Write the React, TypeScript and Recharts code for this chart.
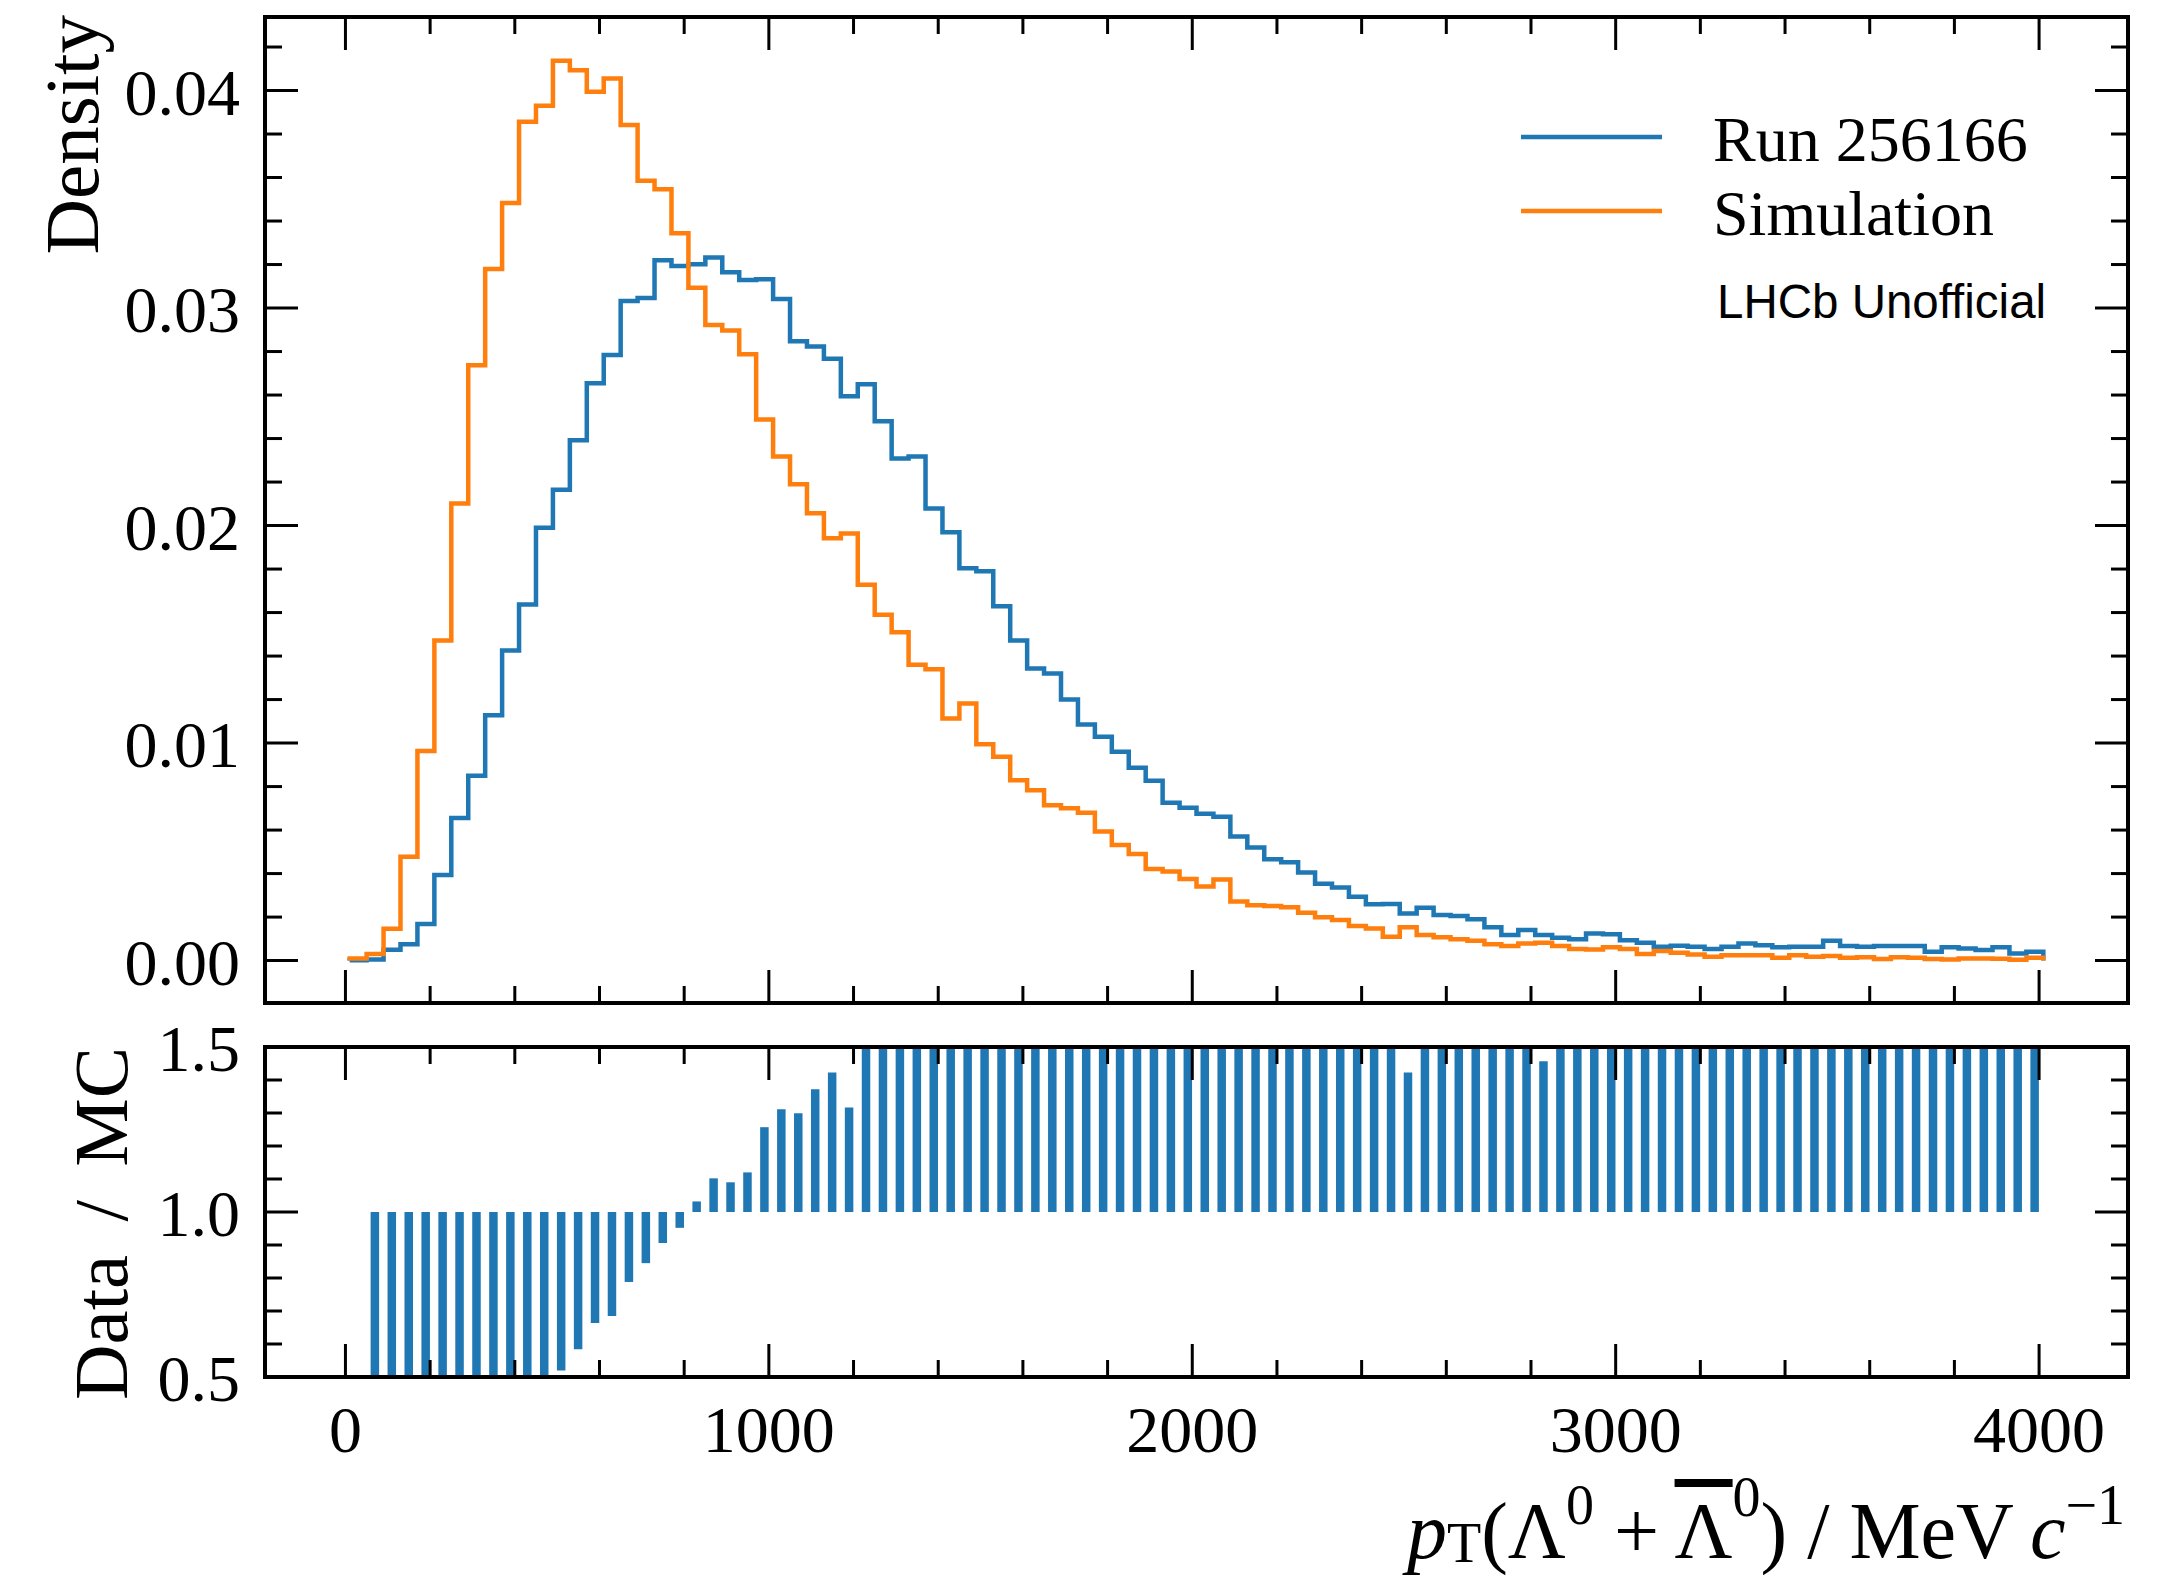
import React from 'react'
import { ComposedChart, Line, Bar, XAxis, YAxis } from 'recharts'

// binning of pT (MeV/c): 100 bins, 40 wide
const N_BINS = 100
const BIN_LO = 10
const BIN_W = 40
const binEdges = Array.from({ length: N_BINS + 1 }, (_, i) => BIN_LO + i * BIN_W)

// normalised densities, one per bin
const runDensity = [
  0.00002, 0.00005, 0.0005, 0.00075, 0.00168, 0.00394, 0.00656, 0.0085, 0.01128, 0.01425,
  0.01637, 0.0199, 0.02165, 0.02392, 0.02654, 0.02784, 0.03032, 0.03046, 0.0322, 0.03193,
  0.03201, 0.03232, 0.03165, 0.03129, 0.03132, 0.03041, 0.02847, 0.02823, 0.02767, 0.02595,
  0.0265, 0.0248, 0.02308, 0.02317, 0.02078, 0.01969, 0.01804, 0.0179, 0.01629, 0.01472,
  0.01343, 0.0132, 0.012, 0.01085, 0.01029, 0.0096, 0.00887, 0.00827, 0.00726, 0.00703,
  0.00675, 0.00661, 0.0057, 0.0052, 0.00466, 0.00452, 0.00405, 0.00353, 0.00336, 0.00294,
  0.00259, 0.0026, 0.00217, 0.00243, 0.0021, 0.00205, 0.0019, 0.00153, 0.00118, 0.00141,
  0.00118, 0.00105, 0.00098, 0.00125, 0.00121, 0.00094, 0.00082, 0.00064, 0.00068, 0.00064,
  0.00053, 0.00064, 0.00079, 0.00071, 0.00061, 0.00064, 0.00064, 0.00091, 0.00067, 0.00064,
  0.00067, 0.00067, 0.00067, 0.00041, 0.00061, 0.00056, 0.00049, 0.00061, 0.00033, 0.00041,
]

const simDensity = [
  0.0001, 0.0003, 0.00146, 0.00477, 0.00963, 0.01472, 0.02101, 0.02737, 0.03179, 0.03483,
  0.03856, 0.0393, 0.04137, 0.04093, 0.03994, 0.04055, 0.03842, 0.03585, 0.03546, 0.03344,
  0.03093, 0.02922, 0.02897, 0.02787, 0.02488, 0.02317, 0.0219, 0.02056, 0.01942, 0.01964,
  0.01728, 0.0159, 0.0151, 0.0136, 0.01339, 0.01113, 0.01182, 0.00995, 0.00937, 0.00829,
  0.00783, 0.00714, 0.007, 0.0068, 0.00594, 0.00531, 0.0049, 0.00421, 0.0041, 0.00375,
  0.00341, 0.00373, 0.00272, 0.00254, 0.00251, 0.00245, 0.0022, 0.00199, 0.00187, 0.00159,
  0.00148, 0.0011, 0.00153, 0.00118, 0.00107, 0.00098, 0.00091, 0.00075, 0.00067, 0.00079,
  0.00082, 0.00067, 0.00053, 0.00051, 0.00061, 0.00053, 0.0003, 0.00044, 0.00036, 0.00028,
  0.00018, 0.00025, 0.00024, 0.00024, 0.00013, 0.00025, 0.00018, 0.00021, 0.00013, 0.00015,
  0.00007, 0.00015, 0.00013, 0.00007, 0.00005, 0.0001, 0.0001, 0.00008, 0.00004, 0.00013,
]

// data / MC per bin (first bin empty)
const ratioValues: (number | null)[] = [
  null, 0.17, 0.34, 0.16, 0.17, 0.27, 0.31, 0.31, 0.35, 0.41,
  0.42, 0.49, 0.52, 0.584, 0.664, 0.685, 0.788, 0.845, 0.906, 0.952,
  1.032, 1.102, 1.09, 1.12, 1.257, 1.311, 1.299, 1.372, 1.423, 1.317,
  1.53, 1.56, 1.53, 1.7, 1.55, 1.77, 1.53, 1.8, 1.74, 1.78,
  1.72, 1.85, 1.71, 1.6, 1.73, 1.81, 1.81, 1.96, 1.77, 1.87,
  1.98, 1.77, 2.1, 2.05, 1.86, 1.84, 1.84, 1.77, 1.8, 1.85,
  1.75, 2.36, 1.423, 2.06, 1.96, 2.09, 2.09, 2.04, 1.76, 1.78,
  1.457, 1.57, 1.85, 2.45, 1.98, 1.77, 2.73, 1.6, 1.89, 2.56,
  2.9, 2.6, 3.3, 3.0, 4.7, 2.6, 3.6, 4.3, 5.2, 4.3,
  5.0, 4.5, 5.2, 5.9, 6.0, 5.6, 4.9, 7.6, 8.0, 3.2,
]

const xTicks = [0, 200, 400, 600, 800, 1000, 1200, 1400, 1600, 1800, 2000, 2200, 2400, 2600, 2800, 3000, 3200, 3400, 3600, 3800, 4000]
const densityTicks = [0, 0.002, 0.004, 0.006, 0.008, 0.01, 0.012, 0.014, 0.016, 0.018, 0.02, 0.022, 0.024, 0.026, 0.028, 0.03, 0.032, 0.034, 0.036, 0.038, 0.04, 0.042]
const ratioTicks = [0.5, 0.6, 0.7, 0.8, 0.9, 1.0, 1.1, 1.2, 1.3, 1.4, 1.5]

const seriesNames = ['Run 256166', 'Simulation']
const BLUE = '#1f77b4'
const ORANGE = '#ff7f0e'

// step outline: baseline -> bins -> baseline (like matplotlib histtype='step')
const histRows = [
  { x: binEdges[0], run: 0, sim: 0 },
  ...runDensity.map((v, i) => ({ x: binEdges[i], run: v, sim: simDensity[i] })),
  { x: binEdges[N_BINS], run: runDensity[N_BINS - 1], sim: simDensity[N_BINS - 1] },
  { x: binEdges[N_BINS], run: 0, sim: 0 },
]

const ratioRows = ratioValues.flatMap((r, i) =>
  r == null ? [] : [{ x: binEdges[i] + BIN_W / 2, r: [Math.min(r, 1), Math.max(r, 1)] }]
)

const SERIF = '"Liberation Serif", "Times New Roman", serif'
const SANS = '"Liberation Sans", Arial, sans-serif'
const X_DOMAIN: [number, number] = [-190, 4210]
const MAJOR_LEN = 33
const MINOR_LEN = 17
const TICK_W = 3
const SPINE = { stroke: '#000', strokeWidth: 4, strokeLinecap: 'square' as const }

function xTick(side: 'bottom' | 'top', withLabel: boolean) {
  return (props: any) => {
    const { x, y, payload } = props
    const v = payload.value as number
    const major = v % 1000 === 0
    const len = major ? MAJOR_LEN : MINOR_LEN
    const y2 = side === 'bottom' ? y - len : y + len
    return (
      <g>
        <line x1={x} y1={y} x2={x} y2={y2} stroke="#000" strokeWidth={TICK_W} />
        {withLabel && major ? (
          <text x={x} y={y + 75} textAnchor="middle" fontFamily={SERIF} fontSize={66} fill="#000">
            {v}
          </text>
        ) : null}
      </g>
    )
  }
}

function yTick(side: 'left' | 'right', majorStep: number, digits: number) {
  return (props: any) => {
    const { x, y, payload } = props
    const v = payload.value as number
    const q = v / majorStep
    const major = Math.abs(q - Math.round(q)) < 1e-6
    const len = major ? MAJOR_LEN : MINOR_LEN
    const x2 = side === 'left' ? x + len : x - len
    return (
      <g>
        <line x1={x} y1={y} x2={x2} y2={y} stroke="#000" strokeWidth={TICK_W} />
        {side === 'left' && major ? (
          <text x={x - 25} y={y + 24} textAnchor="end" fontFamily={SERIF} fontSize={66} fill="#000">
            {v.toFixed(digits)}
          </text>
        ) : null}
      </g>
    )
  }
}

const axisCommon = {
  type: 'number' as const,
  tickSize: 0,
  tickMargin: 0,
  tickLine: false,
  interval: 0 as const,
  axisLine: SPINE,
  allowDataOverflow: true,
}

export default function App() {
  return (
    <div style={{ position: 'absolute', left: 0, top: 0, width: 2177, height: 1579, background: '#fff' }}>
      {/* upper panel: normalised densities */}
      <div style={{ position: 'absolute', left: 0, top: 0 }}>
        <ComposedChart width={2177} height={1040} data={histRows} margin={{ top: 16, right: 48, bottom: 36, left: 0 }}>
          <XAxis {...axisCommon} xAxisId="x" dataKey="x" domain={X_DOMAIN} ticks={xTicks} height={1} tick={xTick('bottom', false)} />
          <XAxis {...axisCommon} xAxisId="xt" orientation="top" dataKey="x" domain={X_DOMAIN} ticks={xTicks} height={1} tick={xTick('top', false)} />
          <YAxis {...axisCommon} yAxisId="y" domain={[-0.00195, 0.04338]} ticks={densityTicks} width={265} tick={yTick('left', 0.01, 2)} />
          <YAxis {...axisCommon} yAxisId="yr" orientation="right" domain={[-0.00195, 0.04338]} ticks={densityTicks} width={1} tick={yTick('right', 0.01, 2)} />
          <Line xAxisId="x" yAxisId="y" dataKey="run" name={seriesNames[0]} type="stepAfter" stroke={BLUE} strokeWidth={4.5} dot={false} activeDot={false} isAnimationActive={false} />
          <Line xAxisId="x" yAxisId="y" dataKey="sim" name={seriesNames[1]} type="stepAfter" stroke={ORANGE} strokeWidth={4.5} dot={false} activeDot={false} isAnimationActive={false} />

          {/* legend */}
          <g>
            <line x1={1521} x2={1662} y1={137} y2={137} stroke={BLUE} strokeWidth={4.5} />
            <text x={1713} y={161} fontFamily={SERIF} fontSize={64} fill="#000">{seriesNames[0]}</text>
            <line x1={1521} x2={1662} y1={211} y2={211} stroke={ORANGE} strokeWidth={4.5} />
            <text x={1713} y={235} fontFamily={SERIF} fontSize={64} fill="#000">{seriesNames[1]}</text>
            <text x={1717} y={318} fontFamily={SANS} fontSize={47.5} fill="#000">LHCb Unofficial</text>
          </g>
          <text transform="translate(98,15) rotate(-90)" textAnchor="end" fontFamily={SERIF} fontSize={77} fill="#000">
            Density
          </text>
        </ComposedChart>
      </div>

      {/* lower panel: data / MC */}
      <div style={{ position: 'absolute', left: 0, top: 1000 }}>
        <ComposedChart width={2177} height={579} data={ratioRows} margin={{ top: 46, right: 48, bottom: 201, left: 0 }}>
          <XAxis {...axisCommon} xAxisId="x" dataKey="x" domain={X_DOMAIN} ticks={xTicks} height={1} tick={xTick('bottom', true)} />
          <XAxis {...axisCommon} xAxisId="xt" orientation="top" dataKey="x" domain={X_DOMAIN} ticks={xTicks} height={1} tick={xTick('top', false)} />
          <YAxis {...axisCommon} yAxisId="y" domain={[0.5, 1.5]} ticks={ratioTicks} width={265} tick={yTick('left', 0.5, 1)} />
          <YAxis {...axisCommon} yAxisId="yr" orientation="right" domain={[0.5, 1.5]} ticks={ratioTicks} width={1} tick={yTick('right', 0.5, 1)} />
          <Bar xAxisId="x" yAxisId="y" dataKey="r" fill={BLUE} barSize={8.5} isAnimationActive={false} />
          <text transform="translate(127,47) rotate(-90)" textAnchor="end" fontFamily={SERIF} fontSize={77} wordSpacing={14} fill="#000">
            Data / MC
          </text>
        </ComposedChart>
      </div>

      {/* x-axis title */}
      <div
        style={{
          position: 'absolute',
          right: 52,
          top: 1489,
          fontFamily: SERIF,
          fontSize: 80,
          lineHeight: '84px',
          whiteSpace: 'nowrap',
          color: '#000',
        }}
      >
        <i>p</i>
        <span style={{ fontSize: '0.7em', position: 'relative', top: '0.08em' }}>T</span>
        (Λ<span style={{ fontSize: '0.7em', position: 'relative', top: '-0.6em' }}>0</span>
        {' + '}
        <span style={{ textDecoration: 'overline' }}>Λ</span>
        <span style={{ fontSize: '0.7em', position: 'relative', top: '-0.75em' }}>0</span>)
        {' / MeV\u2009'}
        <i>c</i>
        <span style={{ fontSize: '0.7em', position: 'relative', top: '-0.6em' }}>−1</span>
      </div>
    </div>
  )
}
